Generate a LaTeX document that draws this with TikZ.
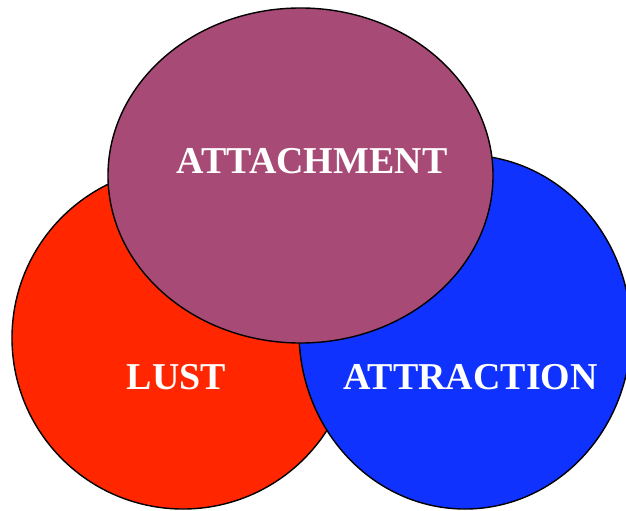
\documentclass[tikz,border=0pt]{standalone}
\usepackage{fontspec}
\setmainfont{Liberation Serif}
\usetikzlibrary{shapes.geometric}
\definecolor{lustred}{RGB}{255,38,0}
\definecolor{attrblue}{RGB}{15,50,255}
\definecolor{attachpurple}{RGB}{168,74,118}
\begin{document}
\begin{tikzpicture}[
  x=0.03cm, y=-0.03cm,
  blob/.style={ellipse, draw=black, line width=1.2pt, inner sep=0pt},
  word/.style={anchor=base, text=white, font=\fontsize{32.4}{36}\selectfont\bfseries}
]
\useasboundingbox (0,0) rectangle (626,510);
\node[blob, fill=lustred, minimum width=10.26cm, minimum height=10.26cm] (lust) at (183,338) {};
\node[blob, fill=attrblue, minimum width=9.96cm, minimum height=10.62cm] (attraction) at (465,332) {};
\node[blob, fill=attachpurple, minimum width=11.55cm, minimum height=10.05cm] (attachment) at (300.5,175.5) {};

\node[word] (lustlabel) at (176.5,389) {LUST};
\node[word] (attractionlabel) at (470.5,389) {ATTRACTION};
\node[word] (attachmentlabel) at (312,173) {ATTACHMENT};
\end{tikzpicture}
\end{document}
